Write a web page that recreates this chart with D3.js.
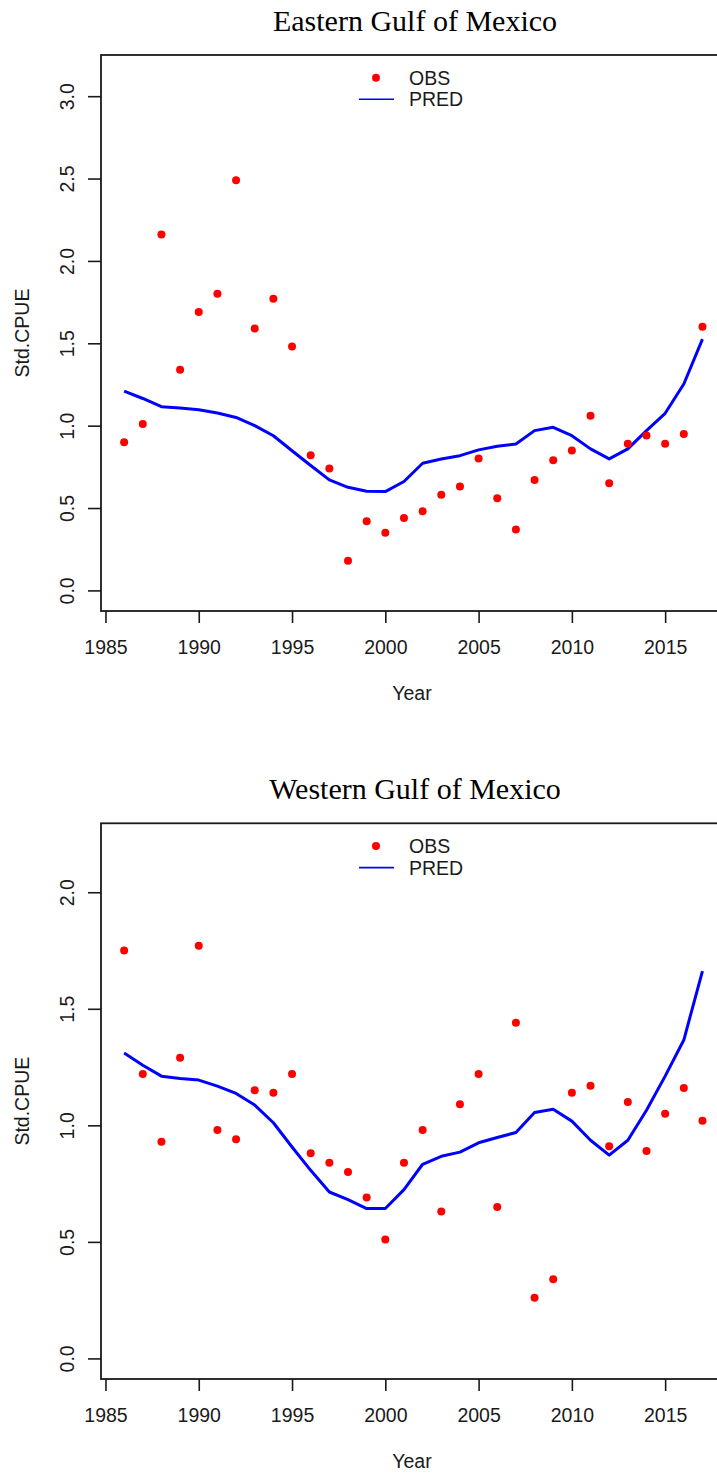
<!DOCTYPE html>
<html>
<head>
<meta charset="utf-8">
<script src="https://cdn.jsdelivr.net/npm/d3@7"></script>
<style>
  html, body { margin: 0; padding: 0; background: #fff; }
  svg { display: block; }
</style>
</head>
<body>
<svg id="chart" width="717" height="1474"></svg>
<script>
// ---------------- DATA ----------------
const years = [1986,1987,1988,1989,1990,1991,1992,1993,1994,1995,1996,1997,1998,1999,2000,2001,
               2002,2003,2004,2005,2006,2007,2008,2009,2010,2011,2012,2013,2014,2015,2016,2017];

const eastObs  = [0.90,1.01,2.16,1.34,1.69,1.80,2.49,1.59,1.77,1.48,0.82,0.74,0.18,0.42,0.35,0.44,
                  0.48,0.58,0.63,0.80,0.56,0.37,0.67,0.79,0.85,1.06,0.65,0.89,0.94,0.89,0.95,1.60];
const eastPred = [1.21,1.165,1.115,1.107,1.097,1.077,1.05,1.00,0.939,0.848,0.758,0.671,0.626,0.602,0.60,0.661,
                  0.772,0.798,0.818,0.853,0.875,0.889,0.97,0.99,0.939,0.859,0.798,0.859,0.97,1.075,1.253,1.525];

const westObs  = [1.75,1.22,0.93,1.29,1.77,0.98,0.94,1.15,1.14,1.22,0.88,0.84,0.80,0.69,0.51,0.84,
                  0.98,0.63,1.09,1.22,0.65,1.44,0.26,0.34,1.14,1.17,0.91,1.10,0.89,1.05,1.16,1.02];
const westPred = [1.31,1.258,1.211,1.201,1.194,1.168,1.137,1.087,1.011,0.907,0.807,0.714,0.681,0.643,0.643,0.724,
                  0.833,0.867,0.885,0.925,0.948,0.969,1.055,1.069,1.018,0.936,0.872,0.936,1.065,1.211,1.366,1.662];

const xTicks = [1985,1990,1995,2000,2005,2010,2015];
const eastYTicks = [0.0,0.5,1.0,1.5,2.0,2.5,3.0];
const westYTicks = [0.0,0.5,1.0,1.5,2.0];
const xDomain = [1984.76, 2018.24];
const eastYDomain = [-0.125, 3.25];
const westYDomain = [-0.0883, 2.2958];

const titles = ["Eastern Gulf of Mexico", "Western Gulf of Mexico"];
const legendLabels = ["OBS", "PRED"];
const xLabel = "Year";
const yLabel = "Std.CPUE";

// ---------------- LAYOUT ----------------
const svg = d3.select("#chart");
const plotLeft = 101, plotRight = 725.6;
const panels = [
  { title: titles[0], obs: eastObs, pred: eastPred, yDomain: eastYDomain, yTicks: eastYTicks, top: 55,    bottom: 611 },
  { title: titles[1], obs: westObs, pred: westPred, yDomain: westYDomain, yTicks: westYTicks, top: 823.3, bottom: 1379 }
];

const axisFont = "'Liberation Sans', Arial, sans-serif";
const titleFont = "'Liberation Serif', 'Times New Roman', serif";
const fs = 19.5;
const ink = "#1a1a1a";

const x = d3.scaleLinear().domain(xDomain).range([plotLeft, plotRight]);

panels.forEach(p => {
  const g = svg.append("g");
  const y = d3.scaleLinear().domain(p.yDomain).range([p.bottom, p.top]);
  const midY = (p.top + p.bottom) / 2;

  // Title
  g.append("text")
    .attr("x", 415).attr("y", p.top - 24.5)
    .attr("text-anchor", "middle")
    .attr("font-family", titleFont)
    .attr("font-size", 30)
    .attr("fill", "#000")
    .text(p.title);

  // X axis
  const xAxis = d3.axisBottom(x).tickValues(xTicks).tickFormat(d3.format("d"))
    .tickSize(12).tickSizeOuter(0);
  const xg = g.append("g").attr("transform", `translate(0,${p.bottom})`).call(xAxis);
  xg.select(".domain").remove();
  xg.selectAll(".tick line").attr("stroke", ink).attr("stroke-width", 1.6);
  xg.selectAll(".tick text")
    .attr("font-family", axisFont).attr("font-size", fs).attr("fill", ink)
    .attr("y", 0).attr("dy", 0)
    .attr("transform", "translate(0,43)");

  // Y axis
  const yAxis = d3.axisLeft(y).tickValues(p.yTicks).tickFormat(d3.format(".1f"))
    .tickSize(13).tickSizeOuter(0);
  const yg = g.append("g").attr("transform", `translate(${plotLeft},0)`).call(yAxis);
  yg.select(".domain").remove();
  yg.selectAll(".tick line").attr("stroke", ink).attr("stroke-width", 1.6);
  yg.selectAll(".tick text")
    .attr("font-family", axisFont).attr("font-size", fs).attr("fill", ink)
    .attr("x", 0).attr("dy", 0)
    .attr("text-anchor", "middle")
    .attr("transform", `translate(${74 - plotLeft},0) rotate(-90)`);

  // Box
  g.append("rect")
    .attr("x", plotLeft).attr("y", p.top)
    .attr("width", plotRight - plotLeft).attr("height", p.bottom - p.top)
    .attr("fill", "none").attr("stroke", ink).attr("stroke-width", 1.8);

  // Axis labels
  g.append("text")
    .attr("x", 412).attr("y", p.bottom + 89)
    .attr("text-anchor", "middle")
    .attr("font-family", axisFont).attr("font-size", fs).attr("fill", ink)
    .text(xLabel);
  g.append("text")
    .attr("transform", `translate(29,${midY}) rotate(-90)`)
    .attr("text-anchor", "middle")
    .attr("font-family", axisFont).attr("font-size", fs).attr("fill", ink)
    .text(yLabel);

  // Prediction line
  const line = d3.line().x((d, i) => x(years[i])).y(d => y(d));
  g.append("path")
    .datum(p.pred)
    .attr("d", line)
    .attr("fill", "none")
    .attr("stroke", "#0000FF")
    .attr("stroke-width", 3)
    .attr("stroke-linejoin", "round");

  // Observed points
  g.selectAll("circle.obs")
    .data(p.obs)
    .enter().append("circle")
    .attr("class", "obs")
    .attr("cx", (d, i) => x(years[i]))
    .attr("cy", d => y(d))
    .attr("r", 4)
    .attr("fill", "#FF0000");

  // Legend
  const lg = g.append("g");
  lg.append("circle").attr("cx", 376).attr("cy", p.top + 22.7).attr("r", 4).attr("fill", "#FF0000");
  lg.append("line")
    .attr("x1", 359).attr("x2", 394)
    .attr("y1", p.top + 44.3).attr("y2", p.top + 44.3)
    .attr("stroke", "#0000FF").attr("stroke-width", 1.6);
  lg.append("text").attr("x", 409).attr("y", p.top + 22.7 + 7)
    .attr("font-family", axisFont).attr("font-size", fs).attr("fill", ink)
    .text(legendLabels[0]);
  lg.append("text").attr("x", 409).attr("y", p.top + 44.3 + 7)
    .attr("font-family", axisFont).attr("font-size", fs).attr("fill", ink)
    .text(legendLabels[1]);
});
</script>
</body>
</html>
